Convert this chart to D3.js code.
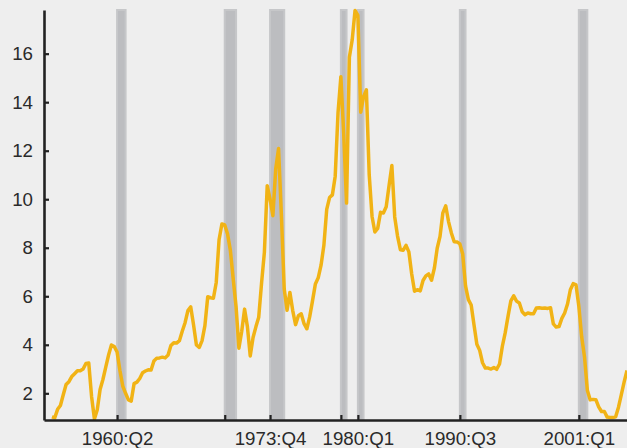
<!DOCTYPE html>
<html>
<head>
<meta charset="utf-8">
<script src="https://cdn.jsdelivr.net/npm/d3@7"></script>
<style>
  html, body { margin: 0; padding: 0; background: #eeeeee; }
  svg { display: block; }
  .axis text { font-family: "Liberation Sans", Arial, sans-serif; font-size: 18.7px; fill: #2a2a2a; }
  .axis path, .axis line { stroke: #222; }
</style>
</head>
<body>
<div id="chart"></div>
<script>
// quarterly series, first value is 1954:Q3
const firstYear = 1954;
const firstQuarter = 3;
const rates = [
  1.03, 0.99,
  1.34, 1.50, 1.94, 2.36,
  2.48, 2.69, 2.81, 2.93,
  2.93, 3.00, 3.23, 3.25,
  1.86, 0.94, 1.32, 2.16,
  2.57, 3.08, 3.58, 3.99,
  3.93, 3.70, 2.94, 2.30,
  2.00, 1.73, 1.68, 2.40,
  2.46, 2.61, 2.85, 2.92,
  2.97, 2.96, 3.33, 3.45,
  3.46, 3.49, 3.46, 3.58,
  3.97, 4.08, 4.07, 4.17,
  4.56, 4.91, 5.41, 5.56,
  4.82, 3.99, 3.89, 4.17,
  4.79, 5.98, 5.94, 5.92,
  6.57, 8.33, 8.98, 8.94,
  8.57, 7.88, 6.70, 5.57,
  3.86, 4.56, 5.47, 4.75,
  3.54, 4.30, 4.74, 5.14,
  6.54, 7.82, 10.56, 10.00,
  9.32, 11.25, 12.09, 9.35,
  6.30, 5.42, 6.16, 5.41,
  4.83, 5.20, 5.28, 4.87,
  4.66, 5.16, 5.82, 6.51,
  6.76, 7.28, 8.10, 9.58,
  10.07, 10.18, 10.95, 13.58,
  15.05, 12.69, 9.84, 15.85,
  16.57, 17.78, 17.58, 13.59,
  14.23, 14.51, 11.01, 9.29,
  8.65, 8.80, 9.46, 9.43,
  9.69, 10.56, 11.39, 9.27,
  8.48, 7.92, 7.90, 8.10,
  7.83, 6.92, 6.21, 6.27,
  6.22, 6.65, 6.84, 6.92,
  6.66, 7.16, 7.98, 8.47,
  9.44, 9.73, 9.08, 8.61,
  8.25, 8.24, 8.16, 7.74,
  6.43, 5.86, 5.64, 4.82,
  4.02, 3.77, 3.26, 3.04,
  3.04, 3.00, 3.06, 2.99,
  3.21, 3.94, 4.49, 5.17,
  5.81, 6.02, 5.80, 5.72,
  5.36, 5.24, 5.31, 5.28,
  5.28, 5.52, 5.53, 5.51,
  5.52, 5.50, 5.53, 4.86,
  4.73, 4.75, 5.09, 5.31,
  5.68, 6.27, 6.52, 6.47,
  5.59, 4.33, 3.50, 2.13,
  1.73, 1.75, 1.74, 1.44,
  1.25, 1.25, 1.02, 1.00,
  1.00, 1.03, 1.43, 1.95,
  2.47, 2.94
];

// recession bands (peak -> end), ticks sit on the peaks
const recessionStart = ["1960:Q2", "1969:Q4", "1973:Q4", "1980:Q1", "1981:Q3", "1990:Q3", "2001:Q1"];
const recessionEnd = ["1961:Q1", "1970:Q4", "1975:Q1", "1980:Q3", "1982:Q1", "1991:Q1", "2001:Q4"];
const tickLabels = ["1960:Q2", "", "1973:Q4", "", "1980:Q1", "1990:Q3", "2001:Q1"];
const yTicks = [2, 4, 6, 8, 10, 12, 14, 16];

function quarterToTime(label) {
  const parts = label.split(":Q");
  return +parts[0] + (+parts[1] - 1) / 4;
}

const width = 627;
const height = 448;
const margin = { top: 10, right: 0, bottom: 28, left: 44 };

const data = rates.map((v, i) => ({
  t: firstYear + (firstQuarter - 1) / 4 + i / 4,
  v: v
}));

const x = d3.scaleLinear()
  .domain([1953.8, 2005.25])
  .range([margin.left, width - margin.right]);

const y = d3.scaleLinear()
  .domain([0.9, 17.8])
  .range([height - margin.bottom, margin.top]);

const svg = d3.select('#chart')
  .append('svg')
  .attr('width', width)
  .attr('height', height);

svg.append('rect')
  .attr('width', width)
  .attr('height', height)
  .attr('fill', '#eeeeee');

// recession shading
svg.selectAll('.band')
  .data(recessionStart.map((s, i) => [quarterToTime(s), quarterToTime(recessionEnd[i])]))
  .enter()
  .append('rect')
  .attr('class', 'band')
  .attr('x', d => x(d[0]))
  .attr('width', d => x(d[1]) - x(d[0]))
  .attr('y', margin.top)
  .attr('height', y.range()[0] - margin.top)
  .attr('fill', '#bcbdc0')
  .attr('stroke', '#c6c7c9')
  .attr('stroke-width', 2);

const line = d3.line()
  .x(d => x(d.t))
  .y(d => y(d.v));

svg.append('path')
  .datum(data)
  .attr('fill', 'none')
  .attr('stroke', '#f1b315')
  .attr('stroke-width', 3.5)
  .attr('stroke-linejoin', 'round')
  .attr('d', line);

const xAxis = d3.axisBottom(x)
  .tickValues(recessionStart.map(quarterToTime))
  .tickFormat((d, i) => tickLabels[i])
  .tickSize(-5)
  .tickSizeOuter(0)
  .tickPadding(12);

const yAxis = d3.axisLeft(y)
  .tickValues(yTicks)
  .tickSize(-5)
  .tickSizeOuter(0)
  .tickPadding(11);

const gx = svg.append('g')
  .attr('class', 'axis')
  .attr('transform', `translate(0,${height - margin.bottom})`)
  .call(xAxis);

const gy = svg.append('g')
  .attr('class', 'axis')
  .attr('transform', `translate(${margin.left},0)`)
  .call(yAxis);

[gx, gy].forEach(g => {
  g.select('.domain').attr('stroke-width', 2.6);
  g.selectAll('.tick line').attr('stroke-width', 2.2);
});
</script>
</body>
</html>
